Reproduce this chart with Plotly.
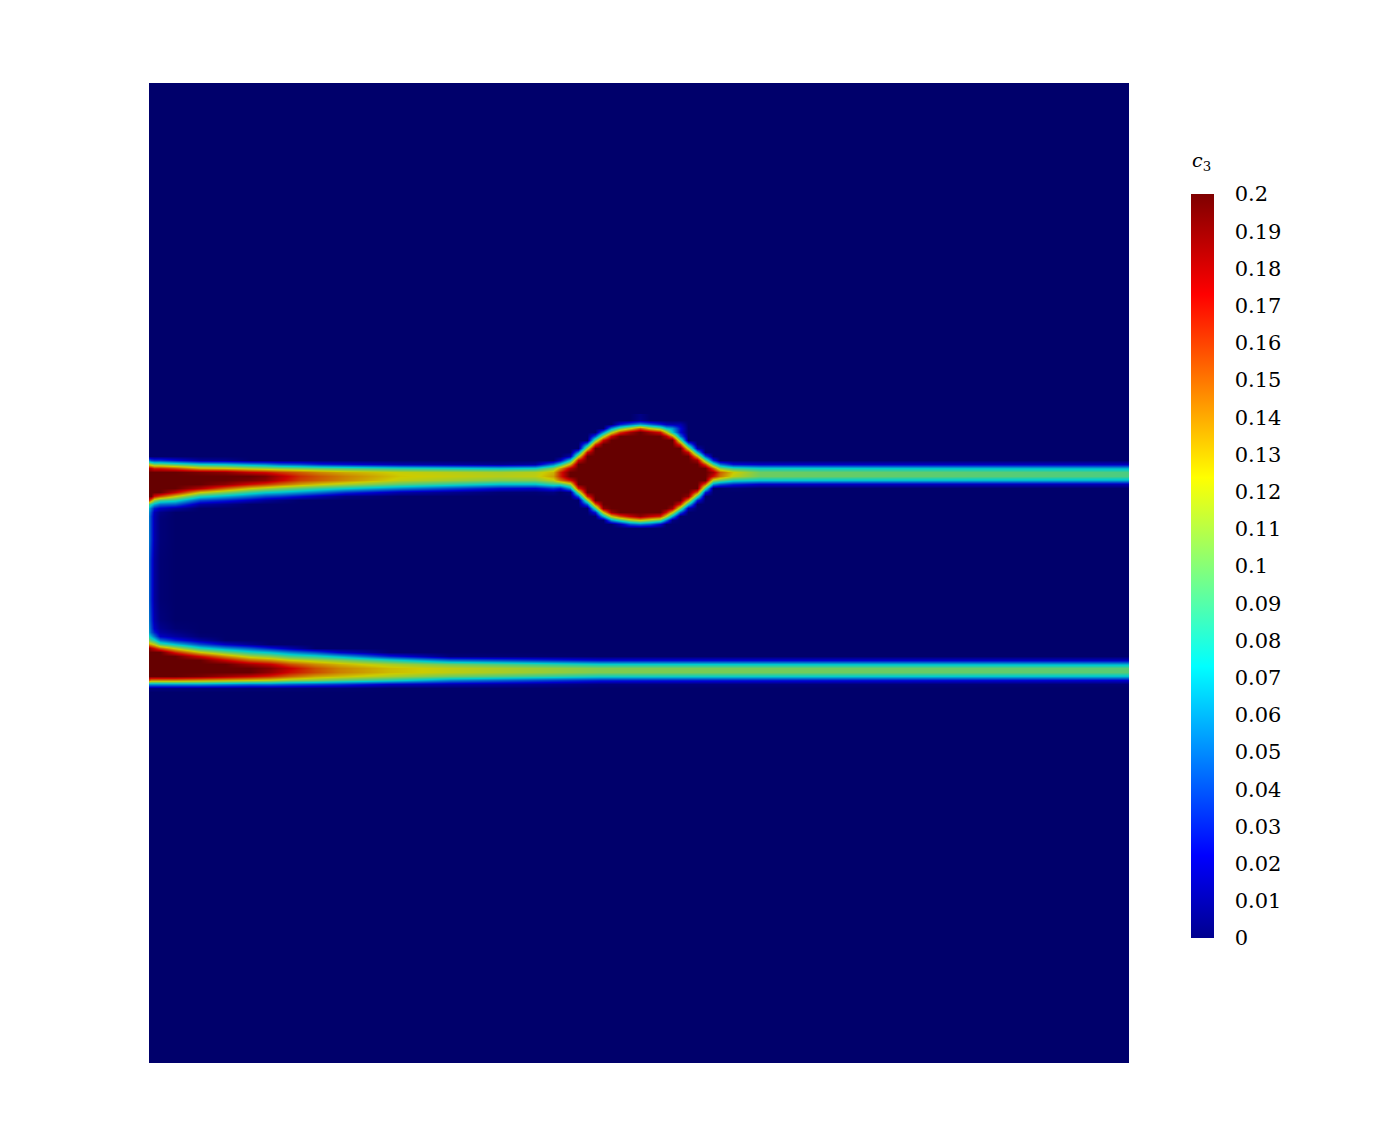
import numpy as np
import plotly.graph_objects as go

# Concentration field c3 (values in thousandths).
# Each table: column position -> (first row position, values of consecutive rows); other cells are 0.
UPPER_Y = [416, 420, 424, 428, 432, 436, 440, 444, 448, 452, 456, 460, 464, 468, 472, 476, 480, 484, 488, 492,
           496, 500, 504, 508, 512, 516, 520, 524, 528, 532]
UPPER = {
    149: (460, [50, 117, 180] + [200] * 7 + [160, 90, 65, 55, 50, 50, 50, 50, 50]),
    151: (460, [40, 110, 175] + [200] * 7 + [140, 80, 50, 40, 35, 35, 35, 35, 35]),
    154: (460, [35, 100, 165] + [200] * 6 + [170, 110, 65, 30, 17, 15, 15, 15, 15, 15]),
    160: (460, [35, 100, 165] + [200] * 6 + [155, 90, 50, 20, 6, 4, 3, 3, 3, 3]),
    175: (460, [25, 90, 155] + [200] * 5 + [175, 125, 80, 45, 12]),
    200: (460, [10, 75, 130, 195, 200, 200, 200, 180, 125, 80, 40, 12]),
    225: (460, [8, 70, 125, 190, 200, 200, 190, 150, 105, 65, 30, 6]),
    250: (464, [60, 115, 175, 200, 195, 170, 125, 85, 50, 18]),
    265: (464, [55, 110, 170, 195, 190, 160, 115, 75, 40, 10]),
    280: (464, [45, 105, 160, 180, 175, 148, 105, 70, 35, 5]),
    300: (464, [40, 100, 150, 162, 158, 135, 95, 60, 25]),
    320: (464, [30, 95, 140, 152, 150, 125, 85, 50, 15]),
    345: (464, [25, 90, 132, 142, 140, 115, 75, 35, 5]),
    400: (464, [15, 80, 122, 125, 120, 95, 55, 15]),
    500: (464, [8, 70, 115, 118, 105, 70, 25, 2]),
    535: (464, [12, 75, 118, 120, 105, 70, 22, 2]),
    553: (464, [50, 105, 130, 135, 120, 85, 35, 5]),
    560: (460, [20, 78, 136, 165, 165, 145, 85, 28]),
    570: (456, [15, 75, 130, 180, 200, 200, 170, 110, 60, 5]),
    578: (452, [57, 114, 172] + [200] * 6 + [165, 105, 45]),
    587: (444, [57, 114, 172] + [200] * 10 + [165, 105, 45]),
    595: (436, [43, 100, 157] + [200] * 14 + [150, 90, 30]),
    603: (432, [57, 114, 172] + [200] * 16 + [190, 125, 65]),
    611: (428, [57, 114, 172] + [200] * 18 + [185, 125, 58]),
    620: (424, [28, 95, 160] + [200] * 20 + [155, 85, 15]),
    630: (424, [45, 120, 185] + [200] * 20 + [175, 110, 42]),
    640: (416, [6, 8, 60, 150] + [200] * 21 + [190, 125, 50]),
    650: (424, [45, 120, 185] + [200] * 20 + [175, 110, 42]),
    660: (424, [30, 100, 170] + [200] * 20 + [165, 95, 22]),
    666: (424, [18, 70, 125, 180] + [200] * 18 + [170, 120, 50]),
    672: (424, [15, 60, 75, 140] + [200] * 17 + [185, 125, 65, 5]),
    680: (424, [15, 25, 25, 50, 100, 157] + [200] * 14 + [165, 105, 45]),
    688: (444, [57, 114, 172] + [200] * 10 + [190, 135, 75, 15]),
    697: (448, [14, 70, 130, 185] + [200] * 7 + [150, 90, 30]),
    705: (456, [43, 100, 157] + [200] * 4 + [150, 90, 30]),
    713: (460, [30, 90, 150, 185, 170, 115, 58]),
    720: (464, [50, 105, 150, 145, 100, 42]),
    733: (464, [25, 85, 125, 120, 80, 30, 2]),
    760: (464, [20, 75, 100, 100, 72, 20]),
    1129: (464, [18, 66, 92, 92, 66, 16]),
}

LOWER_Y = [532, 536, 540, 560, 580, 600, 620, 628, 632, 636, 640, 644, 648, 652, 656, 660, 664, 668, 672, 676,
           680, 684, 688, 692]
LOWER = {
    149: (532, [50, 50, 50, 45, 45, 45, 50, 55, 60, 75, 100, 135, 190] + [200] * 7 + [150, 60, 5]),
    151: (532, [35, 35, 35, 30, 30, 30, 35, 40, 45, 65, 90, 130, 180] + [200] * 7 + [140, 60, 5]),
    154: (532, [15, 15, 15, 12, 12, 12, 15, 20, 30, 50, 80, 120, 170] + [200] * 7 + [140, 60, 5]),
    160: (532, [3, 3, 3, 2, 2, 2, 4, 8, 12, 20, 50, 90, 150] + [200] * 7 + [140, 60, 5]),
    175: (628, [2, 6, 12, 30, 70, 120, 165] + [200] * 6 + [140, 60, 5]),
    200: (636, [2, 12, 40, 80, 125, 170, 200, 200, 200, 200, 195, 135, 60, 4]),
    225: (644, [20, 60, 100, 140, 175, 200, 200, 200, 185, 130, 55, 4]),
    250: (644, [8, 45, 80, 115, 150, 185, 200, 200, 175, 125, 50, 3]),
    270: (648, [30, 70, 105, 140, 175, 192, 188, 165, 120, 50, 3]),
    290: (648, [15, 55, 90, 125, 155, 175, 170, 150, 110, 45, 3]),
    315: (652, [40, 80, 115, 140, 155, 155, 135, 105, 40, 2]),
    340: (652, [20, 65, 105, 130, 142, 142, 128, 95, 35, 2]),
    390: (656, [30, 80, 115, 128, 128, 115, 80, 20]),
    450: (656, [3, 50, 100, 120, 120, 100, 55, 14]),
    600: (660, [25, 75, 105, 105, 78, 30, 3]),
    1129: (660, [18, 65, 95, 95, 70, 22, 2]),
}

# Colour map: positions, colours of the colour bar, and the darker shaded colours of the field.
MAP_POS = [0, 0.111, 0.365, 0.492, 0.619, 0.865, 1]
BAR_COLORS = ["#00008f", "#0000ff", "#00ffff", "#7fff7f", "#ffff00", "#ff0000", "#7f0000"]
FIELD_COLORS = ["#00006b", "#0000cc", "#00cccc", "#66cc66", "#cccc00", "#cc0000", "#660000"]

TICK_VALS = [0, 0.01, 0.02, 0.03, 0.04, 0.05, 0.06, 0.07, 0.08, 0.09, 0.1, 0.11, 0.12, 0.13, 0.14, 0.15, 0.16,
             0.17, 0.18, 0.19, 0.2]
TICK_TEXT = ["0", "0.01", "0.02", "0.03", "0.04", "0.05", "0.06", "0.07", "0.08", "0.09", "0.1", "0.11", "0.12",
             "0.13", "0.14", "0.15", "0.16", "0.17", "0.18", "0.19", "0.2"]
Z_MIN, Z_MAX = 0, 0.2
COLORBAR_TITLE = "<i>c</i><sub>3</sub>"


def matrix(rows, table):
    cols = sorted(table)
    z = np.zeros((len(rows), len(cols)))
    for j, c in enumerate(cols):
        start, vals = table[c]
        i0 = rows.index(start)
        z[i0:i0 + len(vals), j] = vals
    return cols, z / 1000.0


field_scale = [[p, c] for p, c in zip(MAP_POS, FIELD_COLORS)]
bar_scale = [[p, c] for p, c in zip(MAP_POS, BAR_COLORS)]

fig = go.Figure()
for rows, table in ((UPPER_Y, UPPER), (LOWER_Y, LOWER)):
    cols, z = matrix(rows, table)
    fig.add_trace(go.Heatmap(x=cols, y=rows, z=z, zmin=Z_MIN, zmax=Z_MAX, colorscale=field_scale,
                             zsmooth="best", showscale=False, hoverinfo="skip"))

# carries the colour bar only; it lies outside the axis ranges
fig.add_trace(go.Heatmap(
    x=[0, 10], y=[0], z=[[Z_MIN, Z_MAX]], zmin=Z_MIN, zmax=Z_MAX, colorscale=bar_scale, hoverinfo="skip",
    colorbar=dict(
        thickness=23, thicknessmode="pixels", len=744, lenmode="pixels",
        x=1042 / 980, xanchor="left", xpad=0, y=497 / 980, yanchor="middle", ypad=0,
        outlinewidth=0, borderwidth=0,
        tickmode="array", tickvals=TICK_VALS, ticktext=TICK_TEXT,
        ticks="outside", ticklen=17, tickwidth=0, tickcolor="rgba(0,0,0,0)",
        tickfont=dict(family="DejaVu Serif", size=21, color="#000000"),
    )))

fig.add_annotation(
    text=COLORBAR_TITLE, xref="paper", yref="paper", x=1042 / 980, y=888 / 980,
    xanchor="left", yanchor="bottom", showarrow=False, borderpad=0,
    font=dict(family="DejaVu Serif", size=19, color="#000000"),
)

fig.update_layout(
    width=1364, height=1130, autosize=False,
    margin=dict(l=141, r=243, t=75, b=75, pad=0),
    paper_bgcolor="#ffffff", plot_bgcolor=FIELD_COLORS[0],
    xaxis=dict(range=[149, 1129], visible=False),
    yaxis=dict(range=[1063, 83], visible=False),
)
fig.write_html("out.html")
